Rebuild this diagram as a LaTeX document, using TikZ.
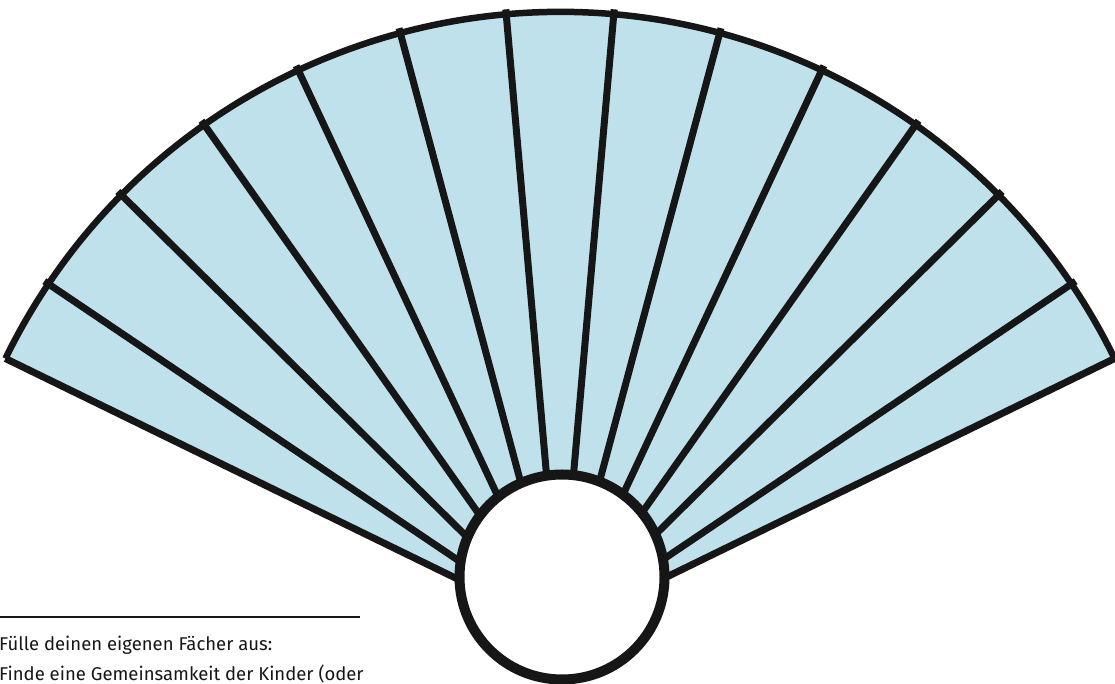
\documentclass[tikz,border=0pt]{standalone}
\usepackage{fontspec}
\setsansfont{Fira Sans}
\usetikzlibrary{calc}
\definecolor{fanblue}{RGB}{191,225,235}
\definecolor{ink}{RGB}{22,22,22}
\begin{document}
\begin{tikzpicture}[x=1pt,y=1pt,
  spoke/.style={draw=ink,line width=7pt},
  rim/.style={draw=ink,line width=6.5pt},
  hub/.style={circle,draw=ink,fill=white,line width=10pt,inner sep=0pt,minimum size=205pt},
  caption/.style={anchor=base west,inner sep=0pt,font=\sffamily\fontsize{18.5}{30}\selectfont,text=ink}]
\useasboundingbox (0,0) rectangle (1115,684);
\coordinate (O) at (560,55);
\coordinate (L) at ($(O)+(154:617)$);
\coordinate (R) at ($(O)+(26:617)$);
\fill[fanblue] (O) -- (L) arc[start angle=154,end angle=26,radius=617] -- cycle;
\foreach \a in {-56,-45.3,-35.2,-25.1,-15,-5,5,15,25.1,35.2,45.3,56}
  \draw[spoke] (O) -- ++(90+\a:622);
\draw[spoke] (O) -- (L);
\draw[spoke] (O) -- (R);
\draw[rim,line join=round] (L) arc[start angle=154,end angle=26,radius=617];
\node[hub] (hub) at (562,107) {};
\coordinate (s1) at (0,67);
\coordinate (s2) at (360,67);
\draw[ink,line width=1.2pt] (s1) -- (s2);
\node[caption] (t1) at (-1,33) {Fülle deinen eigenen Fächer aus:};
\node[caption] (t2) at (-1,3.5) {Finde eine Gemeinsamkeit der Kinder (oder};
\end{tikzpicture}
\end{document}
